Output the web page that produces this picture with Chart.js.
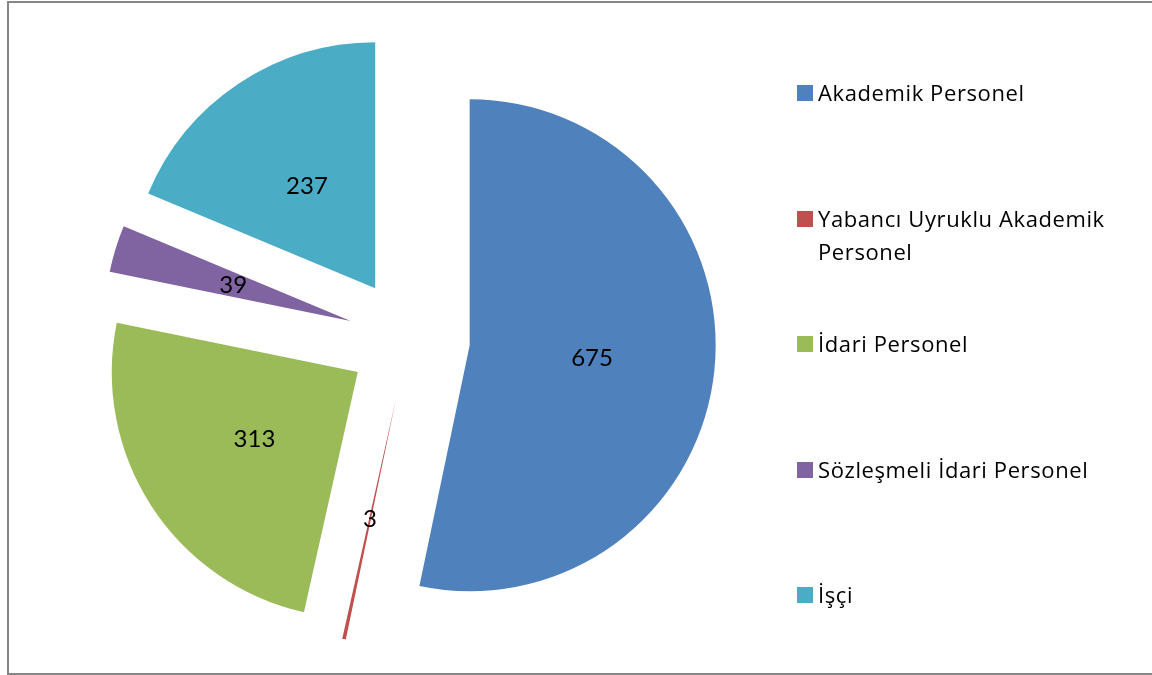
<!DOCTYPE html>
<html>
<head>
<meta charset="utf-8">
<script src="https://cdn.jsdelivr.net/npm/chart.js@4/dist/chart.umd.min.js"></script>
<style>
  html, body { margin: 0; padding: 0; background: #fff; overflow: hidden; }
  #frame {
    position: absolute; left: 7px; top: 1px; width: 1200px; height: 674px;
    border: 2px solid #868686; box-sizing: border-box;
  }
  #pie { position: absolute; left: 0; top: 0; }
  #legend { position: absolute; left: 797px; top: 0; font-family: "Open Sans", sans-serif; font-size: 22px; letter-spacing: 0.6px; color: #000; }
  .item { position: absolute; left: 0; display: flex; align-items: flex-start; line-height: 33px; }
  .box { width: 16px; height: 16px; margin-top: 9px; margin-right: 5px; flex: none; }
  .txt { width: 310px; }
</style>
</head>
<body>
<div id="frame"></div>
<canvas id="pie" width="818" height="678"></canvas>
<div id="legend"></div>
<script>
const labels = ['Akademik Personel', 'Yabancı Uyruklu Akademik Personel', 'İdari Personel', 'Sözleşmeli İdari Personel', 'İşçi'];
const values = [675, 3, 313, 39, 237];
const colors = ['#4F81BD', '#C0504D', '#9BBB59', '#8064A2', '#4BACC6'];

const EXPLODE = 61; // distance every slice is pulled out of the centre

// arc that is shifted outwards along its middle angle, without shrinking it
class ExplodedArc extends Chart.ArcElement {
  draw(ctx) {
    const mid = (this.startAngle + this.endAngle) / 2;
    ctx.save();
    ctx.translate(Math.cos(mid) * EXPLODE, Math.sin(mid) * EXPLODE);
    super.draw(ctx);
    ctx.restore();
  }
}
ExplodedArc.id = 'explodedArc';

class ExplodedPie extends Chart.PieController {}
ExplodedPie.id = 'explodedPie';
ExplodedPie.defaults = { dataElementType: 'explodedArc' };

Chart.register(ExplodedArc, ExplodedPie);

// value in the middle of each slice
const sliceValues = {
  id: 'sliceValues',
  afterDatasetsDraw(chart) {
    const ctx = chart.ctx;
    const arcs = chart.getDatasetMeta(0).data;
    ctx.save();
    ctx.font = '24px Lato, sans-serif';
    ctx.fillStyle = '#000';
    ctx.textAlign = 'center';
    ctx.textBaseline = 'middle';
    arcs.forEach((arc, i) => {
      const mid = (arc.startAngle + arc.endAngle) / 2;
      const d = EXPLODE + arc.outerRadius / 2;
      ctx.fillText(String(values[i]), arc.x + Math.cos(mid) * d, arc.y + Math.sin(mid) * d);
    });
    ctx.restore();
  }
};

new Chart(document.getElementById('pie'), {
  type: 'explodedPie',
  data: {
    labels: labels,
    datasets: [{
      data: values,
      backgroundColor: colors,
      borderWidth: 0
    }]
  },
  options: {
    responsive: false,
    animation: false,
    events: [],
    radius: 246,
    layout: { padding: 0 },
    plugins: { legend: { display: false }, tooltip: { enabled: false } }
  },
  plugins: [sliceValues]
});

// legend on the right
const legend = document.getElementById('legend');
labels.forEach((name, i) => {
  const item = document.createElement('div');
  item.className = 'item';
  item.style.top = (76 + i * 125.5) + 'px';
  const box = document.createElement('div');
  box.className = 'box';
  box.style.background = colors[i];
  const txt = document.createElement('div');
  txt.className = 'txt';
  txt.textContent = name;
  item.appendChild(box);
  item.appendChild(txt);
  legend.appendChild(item);
});
</script>
</body>
</html>
